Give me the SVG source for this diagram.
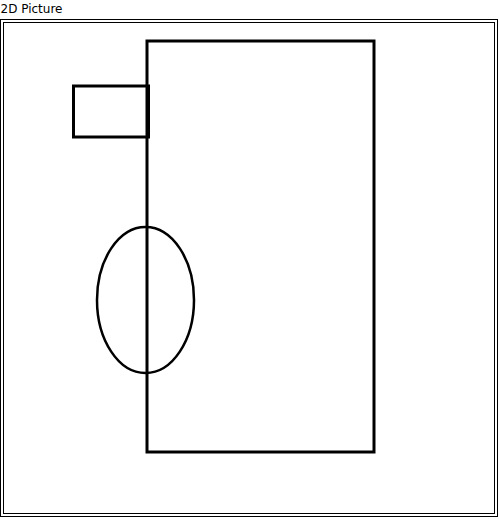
<svg xmlns="http://www.w3.org/2000/svg" width="500" height="519" viewBox="0 0 500 519">
<style>
.frame{fill:none;stroke:#000;stroke-width:1}
.shape{fill:none;stroke:#000;stroke-width:3}
.ell{fill:none;stroke:#000;stroke-width:2.5}
.title{font-family:"DejaVu Sans","Noto Sans",sans-serif;font-size:12px;fill:#000}
</style>
<rect width="500" height="519" fill="#fff"/>
<text class="title" x="0.5" y="13">2D Picture</text>
<rect class="frame" x="0.5" y="19.5" width="497" height="497"/>
<rect class="frame" x="3.5" y="22.5" width="491" height="491"/>
<g id="big-rect"><rect class="shape" x="147" y="41" width="227" height="411"/></g>
<g id="small-rect"><rect class="shape" x="73.5" y="86" width="75" height="51"/></g>
<g id="ellipse"><ellipse class="ell" cx="145.5" cy="300" rx="48.5" ry="73"/></g>
</svg>
